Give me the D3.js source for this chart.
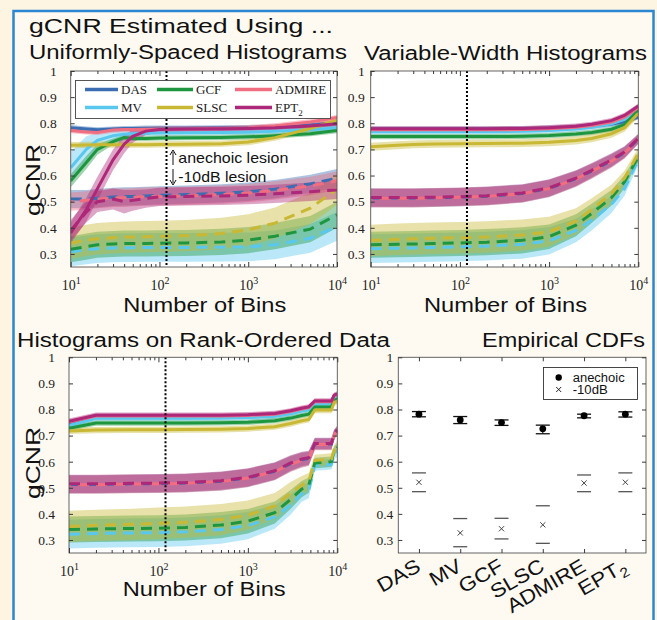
<!DOCTYPE html>
<html><head><meta charset="utf-8">
<script src="https://cdn.jsdelivr.net/npm/d3@7"></script>
<style>body{margin:0;background:#fdf5e2;} svg{display:block}</style>
</head><body><svg id="c" width="657" height="620"></svg>
<script>
// ---------------- DATA ----------------
const methods = ["DAS","MV","GCF","SLSC","ADMIRE","EPT2"];
const yTickValues = [0.3,0.4,0.5,0.6,0.7,0.8,0.9,1];
const xMajorTicks = [10,100,1000,10000];
const markedBins = 120;

// Panel A: Uniformly-Spaced Histograms
const binsA = [10,15,20,30,40,50,70,100,200,500,1000,2000,5000,10000];
const A_an_DAS    = [0.783,0.778,0.775,0.778,0.780,0.780,0.781,0.781,0.781,0.782,0.783,0.786,0.793,0.800];
const A_an_MV     = [0.630,0.700,0.735,0.752,0.758,0.760,0.762,0.763,0.764,0.765,0.766,0.769,0.775,0.783];
const A_an_GCF    = [0.580,0.650,0.700,0.730,0.745,0.742,0.742,0.744,0.745,0.746,0.748,0.752,0.760,0.772];
const A_an_SLSC   = [0.716,0.717,0.718,0.718,0.718,0.718,0.718,0.719,0.720,0.722,0.728,0.745,0.780,0.812];
const A_an_ADMIRE = [0.772,0.767,0.765,0.774,0.776,0.776,0.777,0.778,0.778,0.780,0.783,0.790,0.805,0.822];
const A_an_EPT2   = [0.380,0.470,0.550,0.660,0.720,0.750,0.770,0.776,0.778,0.779,0.780,0.783,0.790,0.798];
const A_anW_DAS    = [0.010,0.010,0.010,0.010,0.010,0.010,0.010,0.010,0.010,0.010,0.010,0.010,0.010,0.010];
const A_anW_MV     = [0.060,0.050,0.030,0.018,0.012,0.010,0.010,0.010,0.010,0.010,0.010,0.010,0.010,0.010];
const A_anW_GCF    = [0.025,0.025,0.020,0.012,0.010,0.010,0.010,0.010,0.010,0.010,0.010,0.010,0.010,0.010];
const A_anW_SLSC   = [0.012,0.012,0.012,0.012,0.012,0.012,0.012,0.012,0.012,0.012,0.012,0.012,0.012,0.012];
const A_anW_ADMIRE = [0.010,0.010,0.010,0.010,0.010,0.010,0.010,0.010,0.010,0.010,0.010,0.010,0.010,0.010];
const A_anW_EPT2   = [0.040,0.045,0.045,0.040,0.035,0.025,0.015,0.012,0.010,0.010,0.010,0.010,0.010,0.010];
const A_db_DAS    = [0.510,0.510,0.513,0.518,0.520,0.520,0.522,0.524,0.527,0.532,0.538,0.548,0.568,0.590];
const A_db_MV     = [0.308,0.316,0.320,0.323,0.324,0.324,0.325,0.325,0.325,0.326,0.327,0.335,0.360,0.405];
const A_db_GCF    = [0.318,0.328,0.335,0.338,0.340,0.340,0.340,0.341,0.342,0.346,0.353,0.368,0.395,0.450];
const A_db_SLSC   = [0.342,0.352,0.358,0.362,0.364,0.365,0.366,0.367,0.370,0.378,0.392,0.418,0.475,0.548];
const A_db_ADMIRE = [0.500,0.505,0.510,0.515,0.515,0.517,0.519,0.520,0.522,0.527,0.533,0.543,0.560,0.580];
const A_db_EPT2   = [0.390,0.460,0.500,0.510,0.500,0.505,0.512,0.518,0.520,0.522,0.525,0.530,0.538,0.545];
const A_dbW_DAS    = [0.035,0.035,0.035,0.035,0.035,0.035,0.035,0.035,0.035,0.035,0.035,0.035,0.035,0.035];
const A_dbW_MV     = [0.055,0.055,0.055,0.055,0.055,0.055,0.055,0.055,0.055,0.055,0.055,0.055,0.055,0.055];
const A_dbW_GCF    = [0.050,0.050,0.050,0.050,0.050,0.050,0.050,0.050,0.050,0.050,0.050,0.050,0.050,0.050];
const A_dbW_SLSC   = [0.060,0.060,0.060,0.060,0.060,0.060,0.060,0.060,0.060,0.060,0.060,0.060,0.060,0.060];
const A_dbW_ADMIRE = [0.035,0.035,0.035,0.035,0.035,0.035,0.035,0.035,0.035,0.035,0.035,0.035,0.035,0.035];
const A_dbW_EPT2   = [0.040,0.040,0.040,0.040,0.045,0.040,0.035,0.035,0.035,0.035,0.035,0.035,0.035,0.035];

// Panel B: Variable-Width Histograms
const binsB = [10,20,30,50,100,200,500,1000,2000,3000,5000,7000,10000];
const B_an_DAS    = [0.778,0.778,0.778,0.778,0.778,0.778,0.779,0.781,0.785,0.789,0.797,0.806,0.824];
const B_an_MV     = [0.768,0.768,0.768,0.768,0.768,0.768,0.769,0.772,0.778,0.785,0.798,0.815,0.852];
const B_an_GCF    = [0.749,0.749,0.749,0.749,0.749,0.749,0.750,0.753,0.759,0.765,0.777,0.795,0.850];
const B_an_SLSC   = [0.710,0.716,0.719,0.721,0.722,0.723,0.724,0.727,0.734,0.742,0.760,0.783,0.838];
const B_an_ADMIRE = [0.775,0.775,0.775,0.775,0.775,0.775,0.776,0.779,0.785,0.791,0.805,0.823,0.860];
const B_an_EPT2   = [0.779,0.779,0.779,0.779,0.779,0.779,0.780,0.783,0.789,0.796,0.810,0.830,0.866];
const B_anW_DAS    = [0.010,0.010,0.010,0.010,0.010,0.010,0.010,0.010,0.010,0.010,0.010,0.010,0.010];
const B_anW_MV     = [0.010,0.010,0.010,0.010,0.010,0.010,0.010,0.010,0.010,0.010,0.010,0.010,0.010];
const B_anW_GCF    = [0.010,0.010,0.010,0.010,0.010,0.010,0.010,0.010,0.010,0.010,0.010,0.010,0.010];
const B_anW_SLSC   = [0.015,0.015,0.015,0.015,0.015,0.015,0.015,0.015,0.015,0.015,0.015,0.015,0.015];
const B_anW_ADMIRE = [0.010,0.010,0.010,0.010,0.010,0.010,0.010,0.010,0.010,0.010,0.010,0.010,0.010];
const B_anW_EPT2   = [0.010,0.010,0.010,0.010,0.010,0.010,0.010,0.010,0.010,0.010,0.010,0.010,0.010];
const B_db_DAS    = [0.514,0.514,0.514,0.515,0.517,0.521,0.531,0.551,0.588,0.617,0.657,0.688,0.740];
const B_db_MV     = [0.320,0.322,0.323,0.325,0.327,0.330,0.337,0.350,0.390,0.430,0.490,0.550,0.660];
const B_db_GCF    = [0.335,0.337,0.338,0.340,0.342,0.345,0.352,0.366,0.410,0.455,0.515,0.576,0.672];
const B_db_SLSC   = [0.352,0.356,0.358,0.360,0.362,0.365,0.372,0.385,0.425,0.470,0.530,0.590,0.685];
const B_db_ADMIRE = [0.513,0.513,0.513,0.515,0.517,0.520,0.530,0.550,0.586,0.616,0.655,0.686,0.738];
const B_db_EPT2   = [0.516,0.516,0.516,0.517,0.519,0.523,0.533,0.553,0.590,0.620,0.660,0.690,0.742];
const B_dbW_DAS    = [0.035,0.035,0.035,0.035,0.035,0.035,0.034,0.033,0.030,0.028,0.025,0.022,0.018];
const B_dbW_MV     = [0.055,0.055,0.055,0.055,0.055,0.055,0.055,0.052,0.045,0.040,0.033,0.027,0.020];
const B_dbW_GCF    = [0.050,0.050,0.050,0.050,0.050,0.050,0.050,0.047,0.042,0.037,0.030,0.025,0.018];
const B_dbW_SLSC   = [0.060,0.060,0.060,0.060,0.060,0.060,0.060,0.057,0.050,0.043,0.035,0.028,0.020];
const B_dbW_ADMIRE = [0.035,0.035,0.035,0.035,0.035,0.035,0.034,0.033,0.030,0.028,0.025,0.022,0.018];
const B_dbW_EPT2   = [0.035,0.035,0.035,0.035,0.035,0.035,0.034,0.033,0.030,0.028,0.025,0.022,0.018];

// Panel C: Histograms on Rank-Ordered Data
const binsC = [10,20,50,100,200,500,1000,2000,3000,4000,4800,5600,8600,9200,10000];
const C_an_DAS    = [0.745,0.772,0.772,0.772,0.772,0.772,0.774,0.779,0.789,0.799,0.804,0.826,0.826,0.845,0.850];
const C_an_MV     = [0.738,0.766,0.766,0.766,0.766,0.767,0.769,0.774,0.784,0.794,0.799,0.821,0.821,0.842,0.847];
const C_an_GCF    = [0.728,0.748,0.748,0.748,0.748,0.749,0.751,0.757,0.767,0.777,0.782,0.810,0.810,0.836,0.840];
const C_an_SLSC   = [0.718,0.721,0.722,0.722,0.723,0.724,0.727,0.734,0.746,0.757,0.762,0.798,0.798,0.826,0.832];
const C_an_ADMIRE = [0.752,0.775,0.775,0.775,0.775,0.775,0.777,0.782,0.792,0.802,0.807,0.830,0.830,0.852,0.856];
const C_an_EPT2   = [0.755,0.778,0.778,0.778,0.778,0.778,0.780,0.785,0.795,0.805,0.810,0.833,0.833,0.855,0.860];
const C_anW_DAS    = [0.010,0.010,0.010,0.010,0.010,0.010,0.010,0.010,0.010,0.010,0.010,0.010,0.010,0.010,0.010];
const C_anW_MV     = [0.010,0.010,0.010,0.010,0.010,0.010,0.010,0.010,0.010,0.010,0.010,0.010,0.010,0.010,0.010];
const C_anW_GCF    = [0.010,0.010,0.010,0.010,0.010,0.010,0.010,0.010,0.010,0.010,0.010,0.010,0.010,0.010,0.010];
const C_anW_SLSC   = [0.012,0.012,0.012,0.012,0.012,0.012,0.012,0.012,0.012,0.012,0.012,0.012,0.012,0.012,0.012];
const C_anW_ADMIRE = [0.010,0.010,0.010,0.010,0.010,0.010,0.010,0.010,0.010,0.010,0.010,0.010,0.010,0.010,0.010];
const C_anW_EPT2   = [0.010,0.010,0.010,0.010,0.010,0.010,0.010,0.010,0.010,0.010,0.010,0.010,0.010,0.010,0.010];
const C_db_DAS    = [0.513,0.513,0.515,0.516,0.518,0.525,0.538,0.563,0.592,0.607,0.612,0.668,0.668,0.703,0.720];
const C_db_MV     = [0.322,0.325,0.327,0.328,0.331,0.340,0.355,0.388,0.435,0.478,0.490,0.585,0.590,0.625,0.635];
const C_db_GCF    = [0.340,0.342,0.344,0.345,0.348,0.357,0.372,0.405,0.455,0.495,0.510,0.595,0.600,0.640,0.655];
const C_db_SLSC   = [0.352,0.356,0.360,0.364,0.368,0.378,0.395,0.430,0.480,0.510,0.525,0.605,0.610,0.645,0.665];
const C_db_ADMIRE = [0.512,0.512,0.514,0.515,0.517,0.524,0.537,0.562,0.590,0.605,0.610,0.666,0.666,0.700,0.718];
const C_db_EPT2   = [0.515,0.515,0.517,0.518,0.520,0.527,0.540,0.565,0.595,0.610,0.615,0.670,0.670,0.705,0.722];
const C_dbW_DAS    = [0.035,0.035,0.035,0.035,0.035,0.035,0.035,0.033,0.030,0.028,0.027,0.022,0.022,0.018,0.016];
const C_dbW_MV     = [0.055,0.055,0.055,0.055,0.055,0.055,0.052,0.045,0.038,0.032,0.030,0.020,0.020,0.018,0.016];
const C_dbW_GCF    = [0.050,0.050,0.050,0.050,0.050,0.050,0.047,0.042,0.036,0.031,0.029,0.020,0.020,0.018,0.016];
const C_dbW_SLSC   = [0.060,0.060,0.060,0.060,0.060,0.060,0.056,0.050,0.042,0.035,0.032,0.022,0.022,0.018,0.016];
const C_dbW_ADMIRE = [0.035,0.035,0.035,0.035,0.035,0.035,0.035,0.033,0.030,0.028,0.027,0.022,0.022,0.018,0.016];
const C_dbW_EPT2   = [0.035,0.035,0.035,0.035,0.035,0.035,0.035,0.033,0.030,0.028,0.027,0.022,0.022,0.018,0.016];

// Panel D: Empirical CDFs
const cdfAnechoic   = [0.782,0.760,0.750,0.726,0.776,0.782];
const cdfAnechoicLo = [0.772,0.746,0.739,0.707,0.768,0.771];
const cdfAnechoicHi = [0.792,0.773,0.760,0.740,0.782,0.791];
const cdf10dB   = [0.521,0.327,0.343,0.358,0.518,0.521];
const cdf10dBLo = [0.485,0.274,0.304,0.287,0.485,0.485];
const cdf10dBHi = [0.557,0.382,0.383,0.431,0.549,0.557];

// ---------------- STYLE ----------------
const colors = {DAS:"#3a6db2", MV:"#5ac8ee", GCF:"#1e9640", SLSC:"#c9b833", ADMIRE:"#f06e80", EPT2:"#ad2878"};
const dashOffset = {DAS:0, MV:0, GCF:0, SLSC:0, ADMIRE:9, EPT2:0};
const sans = "'Liberation Sans', Arial, Helvetica, sans-serif";
const serif = "'Liberation Serif', 'Times New Roman', serif";
const axisColor = "#3a3a3a";

const svg = d3.select("#c");
svg.append("rect").attr("width",657).attr("height",620).attr("fill","#fdf5e2");
svg.append("rect").attr("x",13.5).attr("y",11).attr("width",640).attr("height",700)
  .attr("fill","#fefaf1").attr("stroke","#2b87d1").attr("stroke-width",2.5);

function sText(x, y, str, size, len, anchor) {
  const t = svg.append("text").attr("x",x).attr("y",y).text(str)
    .attr("font-family",sans).attr("font-size",size).attr("fill","#111")
    .attr("text-anchor",anchor||"start");
  if (len) t.attr("textLength",len).attr("lengthAdjust","spacingAndGlyphs");
  return t;
}

// titles
sText(29,33,"gCNR Estimated Using ...",21,304);
sText(29,59,"Uniformly-Spaced Histograms",20,318);
sText(364,60,"Variable-Width Histograms",20,283);
sText(17,347,"Histograms on Rank-Ordered Data",20,373);
sText(482,347,"Empirical CDFs",20,163);

function yAxes(g, cfg, y, pad) {
  const fmt = d => d===1 ? "1" : d.toFixed(1);
  const ga = g.append("g").attr("transform",`translate(${cfg.x0},0)`)
    .call(d3.axisLeft(y).tickValues(yTickValues).tickSizeInner(-4).tickSizeOuter(0).tickPadding(pad).tickFormat(fmt));
  ga.select(".domain").remove();
  ga.selectAll("line").attr("stroke",axisColor);
  ga.selectAll("text").attr("font-family",serif).attr("font-size",13.5).attr("fill","#222");
  const gr = g.append("g").attr("transform",`translate(${cfg.x1},0)`)
    .call(d3.axisRight(y).tickValues(yTickValues).tickSizeInner(-4).tickSizeOuter(0).tickFormat(""));
  gr.select(".domain").remove();
  gr.selectAll("line").attr("stroke",axisColor);
}

function linePanel(cfg, bins, an, anW, db, dbW, idx) {
  const x = d3.scaleLog().domain([10,10000]).range([cfg.x0,cfg.x1]);
  const y = d3.scaleLinear().domain([0.25,1]).range([cfg.y1,cfg.y0]);
  const g = svg.append("g");
  const cid = "clip"+idx;
  svg.append("clipPath").attr("id",cid).append("rect")
    .attr("x",cfg.x0).attr("y",cfg.y0).attr("width",cfg.x1-cfg.x0).attr("height",cfg.y1-cfg.y0);
  g.append("rect").attr("x",cfg.x0).attr("y",cfg.y0).attr("width",cfg.x1-cfg.x0).attr("height",cfg.y1-cfg.y0).attr("fill","#fff");
  const pg = g.append("g").attr("clip-path",`url(#${cid})`);
  const band = (m,w) => d3.area().x((d,i)=>x(bins[i])).y0((d,i)=>y(m[i]-w[i])).y1((d,i)=>y(m[i]+w[i]))(m);
  const line = m => d3.line().x((d,i)=>x(bins[i])).y(d=>y(d))(m);
  methods.forEach((m,k)=>{
    pg.append("path").attr("d",band(db[k],dbW[k])).attr("fill",colors[m]).attr("fill-opacity",0.42);
  });
  methods.forEach((m,k)=>{
    pg.append("path").attr("d",band(an[k],anW[k])).attr("fill",colors[m]).attr("fill-opacity",0.42);
  });
  methods.forEach((m,k)=>{
    pg.append("path").attr("d",line(db[k])).attr("fill","none").attr("stroke",colors[m])
      .attr("stroke-width",3).attr("stroke-dasharray","11,7").attr("stroke-dashoffset",dashOffset[m]);
  });
  methods.forEach((m,k)=>{
    pg.append("path").attr("d",line(an[k])).attr("fill","none").attr("stroke",colors[m]).attr("stroke-width",3);
  });
  // marked bin count
  g.append("line").attr("x1",x(markedBins)).attr("x2",x(markedBins)).attr("y1",cfg.y0).attr("y2",cfg.y1)
    .attr("stroke","#000").attr("stroke-width",2).attr("stroke-dasharray","2,2");
  // box
  g.append("rect").attr("x",cfg.x0).attr("y",cfg.y0).attr("width",cfg.x1-cfg.x0).attr("height",cfg.y1-cfg.y0)
    .attr("fill","none").attr("stroke","#555").attr("stroke-width",0.9);
  // x axes
  const minor = [];
  for (let e=1;e<4;e++) for (let k=2;k<10;k++) minor.push(k*Math.pow(10,e));
  const gb = g.append("g").attr("transform",`translate(0,${cfg.y1})`)
    .call(d3.axisBottom(x).tickValues(xMajorTicks).tickSizeInner(-5).tickSizeOuter(0).tickPadding(cfg.xPad));
  gb.select(".domain").remove();
  gb.selectAll("line").attr("stroke",axisColor);
  gb.selectAll(".tick text").each(function(d){
    const t = d3.select(this); t.text(null);
    t.attr("font-family",serif).attr("font-size",14).attr("fill","#222");
    t.append("tspan").text("10");
    t.append("tspan").attr("dy","-6").attr("font-size",10).text(Math.round(Math.log10(d)));
  });
  const gbm = g.append("g").attr("transform",`translate(0,${cfg.y1})`)
    .call(d3.axisBottom(x).tickValues(minor).tickSizeInner(-3).tickSizeOuter(0).tickFormat(""));
  gbm.select(".domain").remove(); gbm.selectAll("line").attr("stroke",axisColor);
  const gt = g.append("g").attr("transform",`translate(0,${cfg.y0})`)
    .call(d3.axisTop(x).tickValues(xMajorTicks).tickSizeInner(-5).tickSizeOuter(0).tickFormat(""));
  gt.select(".domain").remove(); gt.selectAll("line").attr("stroke",axisColor);
  const gtm = g.append("g").attr("transform",`translate(0,${cfg.y0})`)
    .call(d3.axisTop(x).tickValues(minor).tickSizeInner(-3).tickSizeOuter(0).tickFormat(""));
  gtm.select(".domain").remove(); gtm.selectAll("line").attr("stroke",axisColor);
  yAxes(g, cfg, y, cfg.yPad);
  return {x,y,g};
}

const cfgA = {x0:70.7, x1:337, y0:71, y1:267, yPad:14, xPad:13};
const cfgB = {x0:370.7, x1:638.3, y0:71, y1:267, yPad:6, xPad:13};
const cfgC = {x0:69, x1:337.3, y0:357.3, y1:553, yPad:14, xPad:13};
const cfgD = {x0:398.3, x1:646, y0:357.3, y1:553, yPad:5};

linePanel(cfgA, binsA,
  [A_an_DAS,A_an_MV,A_an_GCF,A_an_SLSC,A_an_ADMIRE,A_an_EPT2],
  [A_anW_DAS,A_anW_MV,A_anW_GCF,A_anW_SLSC,A_anW_ADMIRE,A_anW_EPT2],
  [A_db_DAS,A_db_MV,A_db_GCF,A_db_SLSC,A_db_ADMIRE,A_db_EPT2],
  [A_dbW_DAS,A_dbW_MV,A_dbW_GCF,A_dbW_SLSC,A_dbW_ADMIRE,A_dbW_EPT2], "A");
linePanel(cfgB, binsB,
  [B_an_DAS,B_an_MV,B_an_GCF,B_an_SLSC,B_an_ADMIRE,B_an_EPT2],
  [B_anW_DAS,B_anW_MV,B_anW_GCF,B_anW_SLSC,B_anW_ADMIRE,B_anW_EPT2],
  [B_db_DAS,B_db_MV,B_db_GCF,B_db_SLSC,B_db_ADMIRE,B_db_EPT2],
  [B_dbW_DAS,B_dbW_MV,B_dbW_GCF,B_dbW_SLSC,B_dbW_ADMIRE,B_dbW_EPT2], "B");
linePanel(cfgC, binsC,
  [C_an_DAS,C_an_MV,C_an_GCF,C_an_SLSC,C_an_ADMIRE,C_an_EPT2],
  [C_anW_DAS,C_anW_MV,C_anW_GCF,C_anW_SLSC,C_anW_ADMIRE,C_anW_EPT2],
  [C_db_DAS,C_db_MV,C_db_GCF,C_db_SLSC,C_db_ADMIRE,C_db_EPT2],
  [C_dbW_DAS,C_dbW_MV,C_dbW_GCF,C_dbW_SLSC,C_dbW_ADMIRE,C_dbW_EPT2], "C");

// legend panel A
(function(){
  const g = svg.append("g");
  g.append("rect").attr("x",75.5).attr("y",80.5).attr("width",255).attr("height",38)
    .attr("fill","#fff").attr("stroke","#444").attr("stroke-width",0.9);
  const colX = [85,157,235], lineLen = [33,36,37];
  methods.forEach((m,k)=>{
    const c = Math.floor(k/2), r = k%2;
    const ly = 89.5 + r*18;
    g.append("line").attr("x1",colX[c]).attr("x2",colX[c]+lineLen[c]).attr("y1",ly).attr("y2",ly)
      .attr("stroke",colors[m]).attr("stroke-width",3.5);
    const t = g.append("text").attr("x",colX[c]+lineLen[c]+3).attr("y",ly+4.5)
      .attr("font-family",serif).attr("font-size",13).attr("fill","#222");
    if (m==="EPT2") { t.append("tspan").text("EPT"); t.append("tspan").attr("dy",4).attr("font-size",9).text("2"); }
    else t.text(m);
  });
})();

// annotation in panel A
(function(){
  const g = svg.append("g");
  const ax = 173;
  g.append("line").attr("x1",ax).attr("x2",ax).attr("y1",165).attr("y2",152).attr("stroke","#111").attr("stroke-width",1);
  g.append("path").attr("d",`M${ax-3},${155} L${ax},${150} L${ax+3},${155}`).attr("fill","none").attr("stroke","#111").attr("stroke-width",1);
  g.append("line").attr("x1",ax).attr("x2",ax).attr("y1",169).attr("y2",183).attr("stroke","#111").attr("stroke-width",1);
  g.append("path").attr("d",`M${ax-3},${180} L${ax},${185} L${ax+3},${180}`).attr("fill","none").attr("stroke","#111").attr("stroke-width",1);
  sText(178.3,163.3,"anechoic lesion",15,110);
  sText(178.3,181.7,"-10dB lesion",15,88);
})();

// axis labels
[[cfgA,312],[cfgB,312],[cfgC,596]].forEach(([c,yy])=>{
  sText((c.x0+c.x1)/2+1,yy,"Number of Bins",20,163,"middle");
});
[[180],[463]].forEach(([cy])=>{
  svg.append("text").attr("transform",`translate(40,${cy}) rotate(-90)`).attr("text-anchor","middle")
    .attr("font-family",sans).attr("font-size",20).attr("fill","#111")
    .attr("textLength",72).attr("lengthAdjust","spacingAndGlyphs").text("gCNR");
});

// Panel D
(function(){
  const cfg = cfgD;
  const x = d3.scaleLinear().domain([0.5,6.5]).range([cfg.x0,cfg.x1]);
  const y = d3.scaleLinear().domain([0.25,1]).range([cfg.y1,cfg.y0]);
  const g = svg.append("g");
  g.append("rect").attr("x",cfg.x0).attr("y",cfg.y0).attr("width",cfg.x1-cfg.x0).attr("height",cfg.y1-cfg.y0).attr("fill","#fff");
  const cap = 7;
  methods.forEach((m,k)=>{
    const cx = x(k+1);
    [[cdf10dBLo[k],"#555"],[cdf10dBHi[k],"#555"],[cdfAnechoicLo[k],"#111"],[cdfAnechoicHi[k],"#111"]].forEach(([v,c])=>{
      g.append("line").attr("x1",cx-cap).attr("x2",cx+cap).attr("y1",y(v)).attr("y2",y(v)).attr("stroke",c).attr("stroke-width",1.3);
    });
    g.append("line").attr("x1",cx).attr("x2",cx).attr("y1",y(cdfAnechoicLo[k])).attr("y2",y(cdfAnechoicHi[k])).attr("stroke","#111").attr("stroke-width",1);
    g.append("circle").attr("cx",cx).attr("cy",y(cdfAnechoic[k])).attr("r",3.4).attr("fill","#000");
    const s=2.6, yy=y(cdf10dB[k]);
    g.append("path").attr("d",`M${cx-s},${yy-s}L${cx+s},${yy+s}M${cx-s},${yy+s}L${cx+s},${yy-s}`).attr("stroke","#444").attr("stroke-width",1);
  });
  g.append("rect").attr("x",cfg.x0).attr("y",cfg.y0).attr("width",cfg.x1-cfg.x0).attr("height",cfg.y1-cfg.y0)
    .attr("fill","none").attr("stroke","#555").attr("stroke-width",0.9);
  const cats = [1,2,3,4,5,6];
  const gb = g.append("g").attr("transform",`translate(0,${cfg.y1})`)
    .call(d3.axisBottom(x).tickValues(cats).tickSizeInner(-4).tickSizeOuter(0).tickFormat(""));
  gb.select(".domain").remove(); gb.selectAll("line").attr("stroke",axisColor);
  const gt = g.append("g").attr("transform",`translate(0,${cfg.y0})`)
    .call(d3.axisTop(x).tickValues(cats).tickSizeInner(-4).tickSizeOuter(0).tickFormat(""));
  gt.select(".domain").remove(); gt.selectAll("line").attr("stroke",axisColor);
  yAxes(g, cfg, y, cfg.yPad);
  // category labels
  methods.forEach((m,k)=>{
    const t = g.append("text").attr("transform",`translate(${x(k+1)+3},570) rotate(-30) scale(1.12,1)`)
      .attr("text-anchor","end").attr("font-family",sans).attr("font-size",20).attr("fill","#111");
    if (m==="EPT2") { t.append("tspan").text("EPT"); t.append("tspan").attr("dy",5).attr("font-size",14).text("2"); }
    else t.text(m);
  });
  // legend
  g.append("rect").attr("x",543.5).attr("y",367.5).attr("width",94).attr("height",32)
    .attr("fill","#fff").attr("stroke","#333").attr("stroke-width",0.9);
  g.append("circle").attr("cx",558.7).attr("cy",377.5).attr("r",3.2).attr("fill","#000");
  const s=2.5, lx=558.7, ly=389.5;
  g.append("path").attr("d",`M${lx-s},${ly-s}L${lx+s},${ly+s}M${lx-s},${ly+s}L${lx+s},${ly-s}`).attr("stroke","#222").attr("stroke-width",1);
  g.append("text").attr("x",572.7).attr("y",381.5).attr("font-family",sans).attr("font-size",12).attr("fill","#111")
    .attr("textLength",52).attr("lengthAdjust","spacingAndGlyphs").text("anechoic");
  g.append("text").attr("x",572.7).attr("y",394).attr("font-family",sans).attr("font-size",12).attr("fill","#111")
    .attr("textLength",35).attr("lengthAdjust","spacingAndGlyphs").text("-10dB");
})();
</script></body></html>
